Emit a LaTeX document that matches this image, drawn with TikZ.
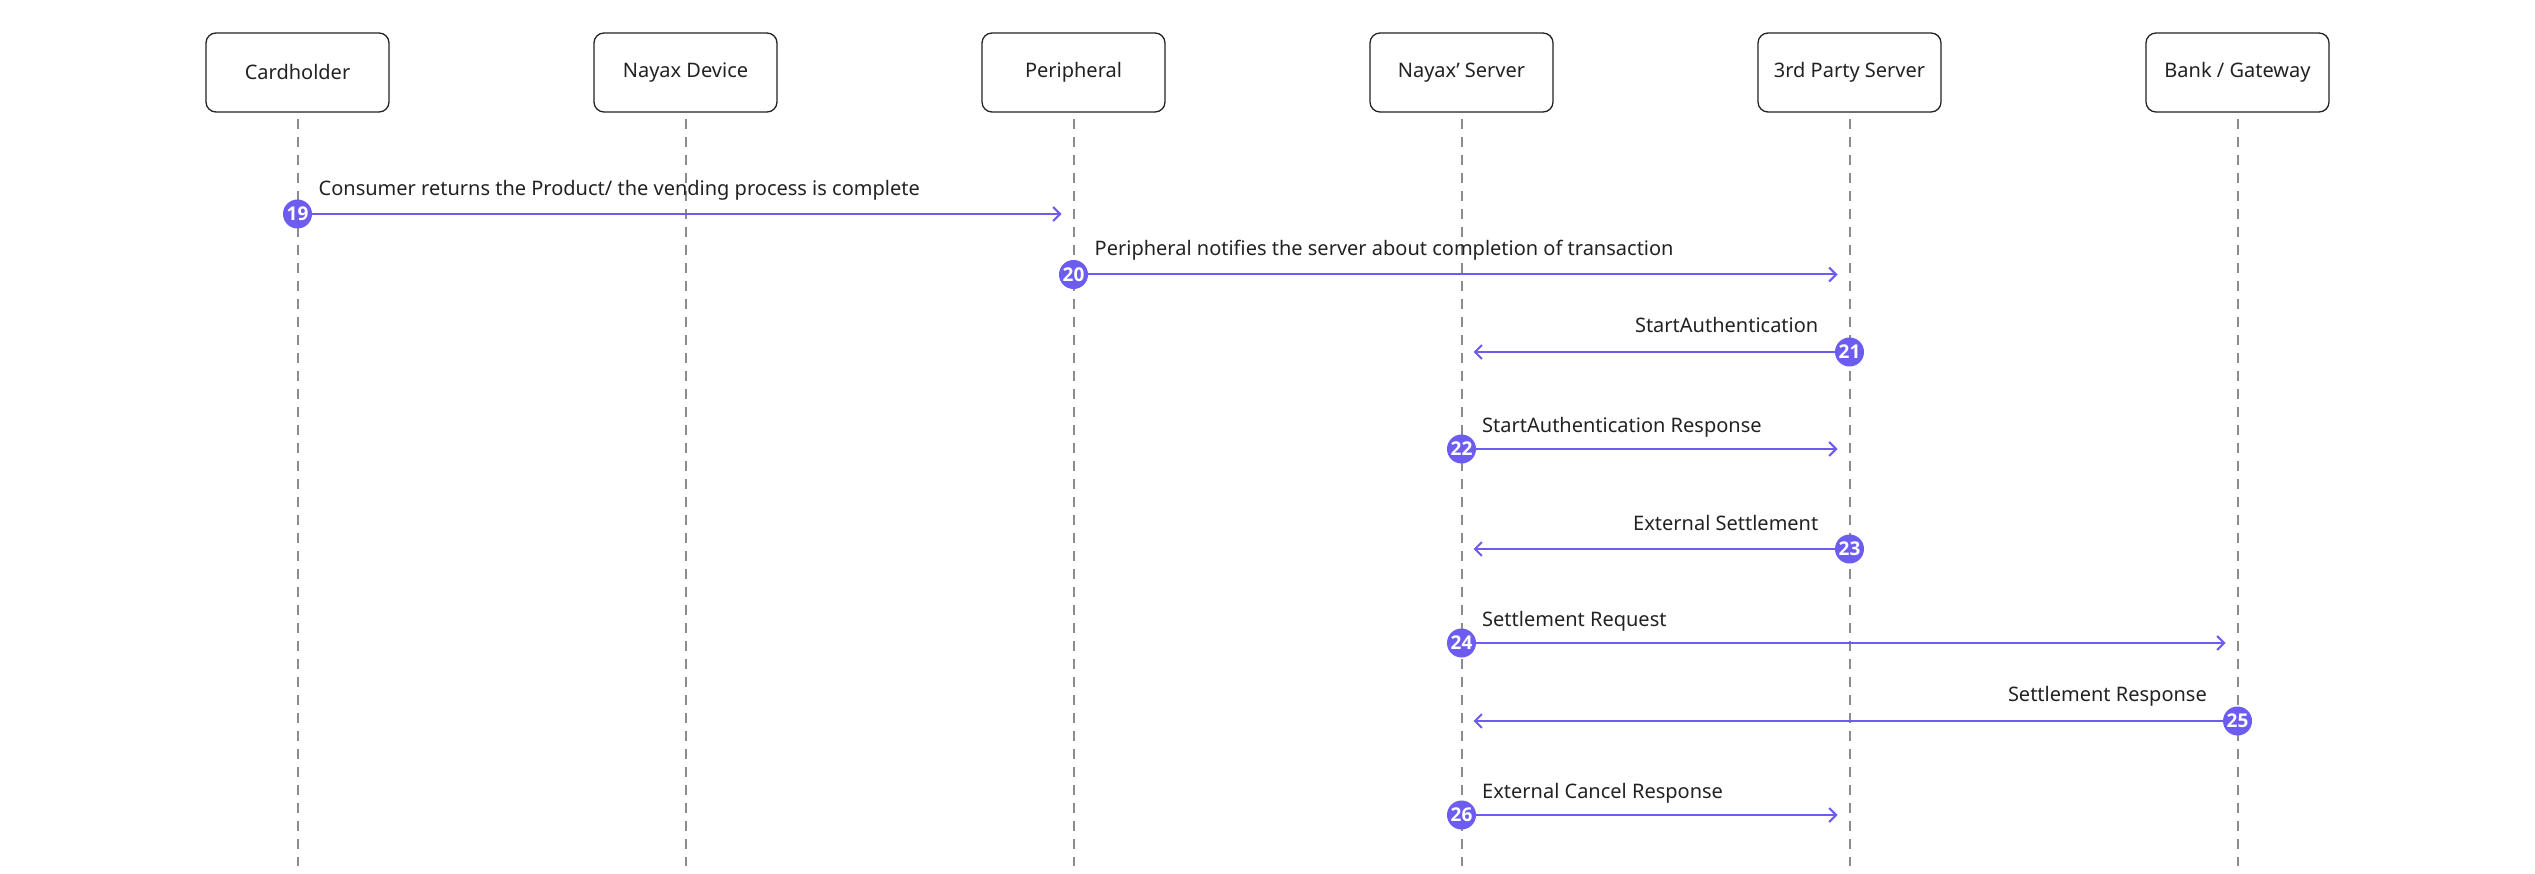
\documentclass[tikz,border=0pt]{standalone}
\usepackage{fontspec}
\setmainfont{Noto Sans}
\newfontfamily\numfont{Open Sans}
\usetikzlibrary{arrows.meta}
\definecolor{purp}{RGB}{108,92,240}
\definecolor{life}{RGB}{140,140,140}
\definecolor{ink}{RGB}{34,34,34}
\begin{document}
\begin{tikzpicture}[x=1pt,y=-1pt,
  actor/.style={draw=ink,line width=1.3pt,rounded corners=10pt,fill=white,minimum width=183pt,minimum height=79pt,inner sep=0pt,font=\fontsize{20}{24}\selectfont,text=ink},
  lifeline/.style={draw=life,line width=2pt,dash pattern=on 10pt off 8pt},
  msg/.style={draw=purp,line width=2pt,-{Straight Barb[length=7pt,width=14pt]},shorten >=12pt},
  num/.style={circle,fill=purp,minimum size=29pt,inner sep=0pt,text=white,font=\numfont\bfseries\fontsize{19}{19}\selectfont},
  lbl/.style={font=\fontsize{20}{24}\selectfont,text=ink,inner sep=0pt},
]
\useasboundingbox (0,0) rectangle (2535,874);
% actors
\node[actor] (b0) at (297.5,72.5) {Cardholder};
\node[actor] (b1) at (685.5,72.5) {Nayax Device};
\node[actor] (b2) at (1073.5,72.5) {Peripheral};
\node[actor] (b3) at (1461.5,72.5) {Nayax’ Server};
\node[actor] (b4) at (1849.5,72.5) {3rd Party Server};
\node[actor] (b5) at (2237.5,72.5) {Bank / Gateway};
% lifeline ends
\foreach \i/\x in {0/297.5,1/685.5,2/1073.5,3/1461.5,4/1849.5,5/2237.5}{
  \coordinate (t\i) at (\x,866);
  \draw[lifeline] ([yshift=-6pt]b\i.south) -- (t\i);
}
% message end points
\coordinate (e19) at (1073.5,214);
\coordinate (e20) at (1849.5,274.5);
\coordinate (e21) at (1461.5,352);
\coordinate (e22) at (1849.5,449);
\coordinate (e23) at (1461.5,549);
\coordinate (e24) at (2237.5,643);
\coordinate (e25) at (1461.5,721);
\coordinate (e26) at (1849.5,815);
% arrows
\draw[msg] (297.5,214) -- (e19);
\draw[msg] (1073.5,274.5) -- (e20);
\draw[msg] (1849.5,352) -- (e21);
\draw[msg] (1461.5,449) -- (e22);
\draw[msg] (1849.5,549) -- (e23);
\draw[msg] (1461.5,643) -- (e24);
\draw[msg] (2237.5,721) -- (e25);
\draw[msg] (1461.5,815) -- (e26);
% number circles
\node[num] (n19) at (297.5,214) {19};
\node[num] (n20) at (1073.5,274.5) {20};
\node[num] (n21) at (1849.5,352) {21};
\node[num] (n22) at (1461.5,449) {22};
\node[num] (n23) at (1849.5,549) {23};
\node[num] (n24) at (1461.5,643) {24};
\node[num] (n25) at (2237.5,721) {25};
\node[num] (n26) at (1461.5,815) {26};
% labels
\node[lbl,anchor=base west] (l19) at (318.5,195.5) {Consumer returns the Product/ the vending process is complete};
\node[lbl,anchor=base west] (l20) at (1094.5,256) {Peripheral notifies the server about completion of transaction};
\node[lbl,anchor=base east] (l21) at (1818.5,332.5) {StartAuthentication};
\node[lbl,anchor=base west] (l22) at (1482,432.5) {StartAuthentication Response};
\node[lbl,anchor=base east] (l23) at (1818.5,530) {External Settlement};
\node[lbl,anchor=base west] (l24) at (1482,626.5) {Settlement Request};
\node[lbl,anchor=base east] (l25) at (2207,701) {Settlement Response};
\node[lbl,anchor=base west] (l26) at (1482,798) {External Cancel Response};
\end{tikzpicture}
\end{document}
